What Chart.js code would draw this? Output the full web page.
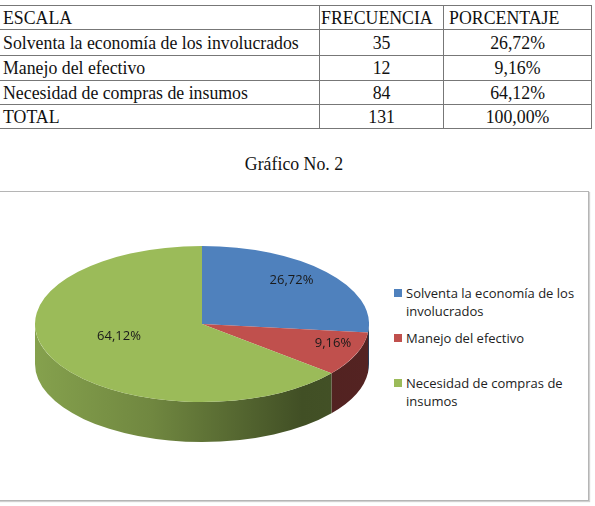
<!DOCTYPE html>
<html>
<head>
<meta charset="utf-8">
<script src="https://cdn.jsdelivr.net/npm/chart.js@4/dist/chart.umd.min.js"></script>
<style>
body{margin:0;width:595px;height:506px;background:#fff;position:relative;overflow:hidden;font-family:"Liberation Serif","Times New Roman",serif}
#tbl{position:absolute;left:-3px;top:5px;border-collapse:collapse;font-size:17.8px;color:#111}
#tbl td{border:1px solid #777;padding:0 0 0 5px;line-height:18px;white-space:nowrap}
#tbl td.c{text-align:center;padding:0}
#title{position:absolute;left:0;width:588px;top:154px;text-align:center;font-size:17.8px;color:#111}
#box{position:absolute;left:-3px;top:191px;width:590px;height:308px;border:1px solid #b5b5b5;box-shadow:1px 1px 1px #d0d0d0}
#pieWrap{position:absolute;left:35px;top:157px;width:334px;height:334px}
#legend{position:absolute;left:394px;top:284px;width:195px;font-family:"Open Sans",sans-serif;font-size:13px;color:#222}
.li{position:relative;height:45px;padding-left:12px;line-height:18px}
.li i{position:absolute;left:0;top:5px;width:8px;height:8px}
</style>
</head>
<body>
<table id="tbl"></table>
<div id="title">Gráfico No. 2</div>
<div id="box"></div>
<div id="pieWrap"><canvas id="pie"></canvas></div>
<div id="legend"></div>
<script>
const headers = ['ESCALA', 'FRECUENCIA', 'PORCENTAJE'];
const categories = ['Solventa la economía de los involucrados', 'Manejo del efectivo', 'Necesidad de compras de insumos'];
const frequencies = [35, 12, 84];
const percents = ['26,72%', '9,16%', '64,12%'];
const totalRow = ['TOTAL', 131, '100,00%'];

// styling only
const colors = ['#4f81bd', '#c0504d', '#9bbb59'];
const labelRadius = [0.72, 0.85, 0.55];
const TILT = 78 / 167, DEPTH = 40, LABEL_DY = -6;
const rowH = [24, 26, 25, 24, 24];
const colW = [320, 124, 148];

// table
const tbl = document.getElementById('tbl');
const rows = [headers].concat(categories.map((c, i) => [c, frequencies[i], percents[i]]), [totalRow]);
rows.forEach((r, ri) => {
  const tr = document.createElement('tr');
  r.forEach((v, ci) => {
    const td = document.createElement('td');
    td.textContent = v;
    td.style.width = colW[ci] + 'px';
    td.style.height = (rowH[ri] - 1) + 'px';
    if (ri > 0 && ci > 0) td.className = 'c';
    if (ri == 0 && ci == 1) td.style.padding = '0 0 0 1px';
    tr.appendChild(td);
  });
  tbl.appendChild(tr);
});

// legend
const legend = document.getElementById('legend');
categories.forEach((c, i) => {
  const d = document.createElement('div');
  d.className = 'li';
  d.innerHTML = '<i style="background:' + colors[i] + '"></i>' + c.replace(' de los ', ' de los<br>').replace(' de insumos', ' de<br>insumos');
  legend.appendChild(d);
});

function shade(hex, f) {
  const n = parseInt(hex.slice(1), 16);
  const r = Math.round((n >> 16) * f), g = Math.round(((n >> 8) & 255) * f), b = Math.round((n & 255) * f);
  return 'rgb(' + r + ',' + g + ',' + b + ')';
}

// fake 3d: walls under the arcs, then squash the top face into an ellipse
const pie3d = {
  id: 'pie3d',
  beforeDatasetsDraw(chart) {
    const ctx = chart.ctx;
    const arcs = chart.getDatasetMeta(0).data;
    const cx = arcs[0].x, cy = arcs[0].y, r = arcs[0].outerRadius;
    ctx.save();
    arcs.forEach((a, i) => {
      [0, 2 * Math.PI].forEach(off => {
        const s = Math.max(a.startAngle, off), e = Math.min(a.endAngle, off + Math.PI);
        if (e <= s) return;
        const g = ctx.createLinearGradient(cx - r, 0, cx + r, 0);
        g.addColorStop(0, shade(colors[i], 0.86));
        g.addColorStop(0.35, shade(colors[i], 0.72));
        g.addColorStop(0.8, shade(colors[i], 0.42));
        g.addColorStop(1, shade(colors[i], 0.44));
        ctx.fillStyle = g;
        ctx.beginPath();
        ctx.ellipse(cx, cy, r, r * TILT, 0, s, e);
        ctx.ellipse(cx, cy + DEPTH, r, r * TILT, 0, e, s, true);
        ctx.closePath();
        ctx.fill();
      });
    });
    ctx.restore();
    ctx.save();
    ctx.translate(0, cy);
    ctx.scale(1, TILT);
    ctx.translate(0, -cy);
  },
  afterDatasetsDraw(chart) {
    const ctx = chart.ctx;
    ctx.restore();
    const arcs = chart.getDatasetMeta(0).data;
    ctx.save();
    ctx.font = '13px "Open Sans", sans-serif';
    ctx.fillStyle = '#1a1a1a';
    ctx.textAlign = 'center';
    ctx.textBaseline = 'middle';
    arcs.forEach((a, i) => {
      const mid = (a.startAngle + a.endAngle) / 2;
      const rr = a.outerRadius * labelRadius[i];
      ctx.fillText(percents[i], a.x + rr * Math.cos(mid), a.y + rr * Math.sin(mid) * TILT + LABEL_DY);
    });
    ctx.restore();
  }
};

new Chart(document.getElementById('pie'), {
  type: 'pie',
  data: {
    labels: categories,
    datasets: [{data: frequencies, backgroundColor: colors, borderWidth: 0, hoverOffset: 0}]
  },
  options: {
    responsive: true,
    maintainAspectRatio: false,
    animation: false,
    events: [],
    layout: {padding: 0},
    plugins: {legend: {display: false}, tooltip: {enabled: false}}
  },
  plugins: [pie3d]
});
</script>
</body>
</html>
